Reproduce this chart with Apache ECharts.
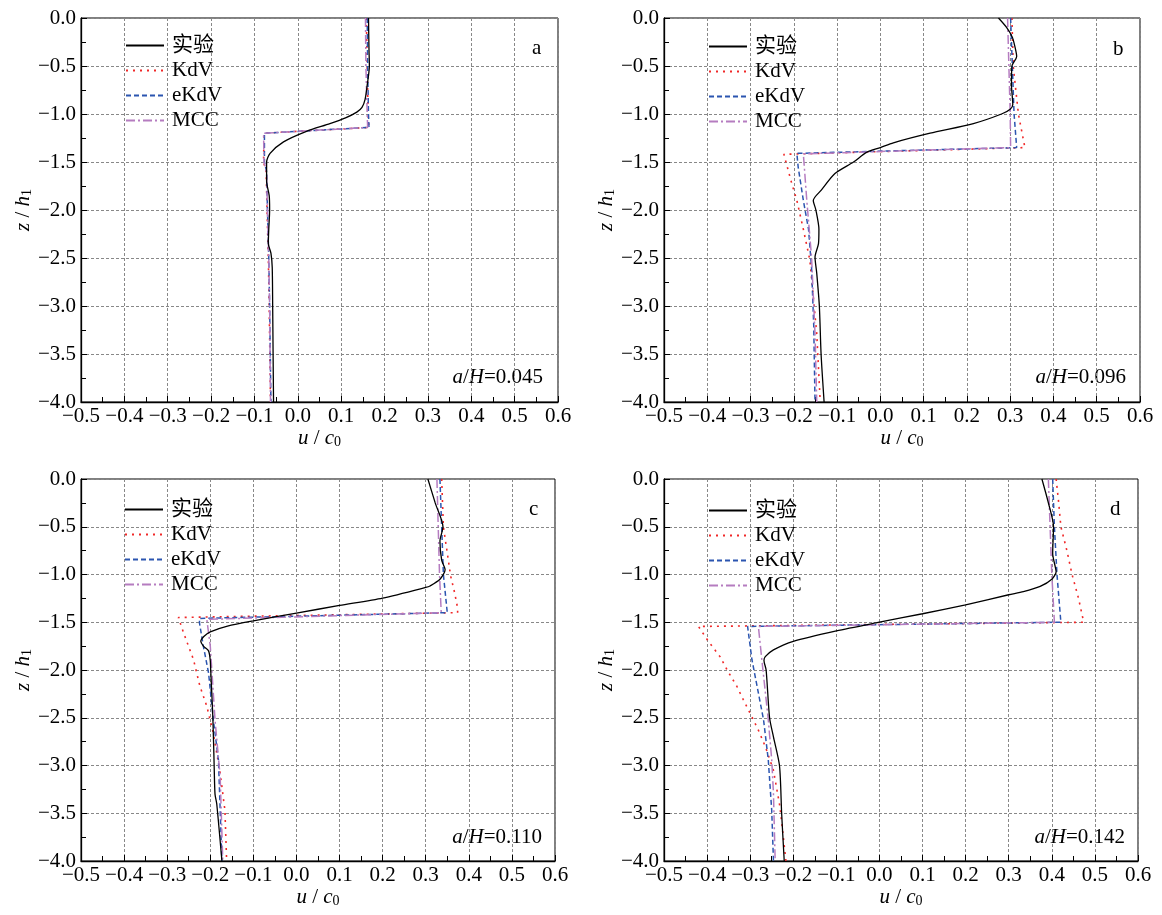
<!DOCTYPE html>
<html><head><meta charset="utf-8">
<script src="https://cdn.jsdelivr.net/npm/echarts@6/dist/echarts.min.js"></script>
<style>html,body{margin:0;padding:0;background:#fff}#c{width:1162px;height:915px}</style>
</head><body><div id="c"></div>
<script>
// ---- data: [u/c0, z/h1] ----
const seriesNames = ['实验', 'KdV', 'eKdV', 'MCC'];
const panelLetters = ['a', 'b', 'c', 'd'];
const ratioLabels = ['0.045', '0.096', '0.110', '0.142'];
const xMin = -0.5, xMax = 0.6, xStep = 0.1;
const yMin = -4, yMax = 0, yStep = 0.5;

const expA = [[0.163,0],[0.164,-0.3],[0.165,-0.5],[0.160,-0.7],[0.155,-0.85],[0.148,-0.93],[0.136,-0.98],[0.11,-1.04],[0.074,-1.10],[0.02,-1.18],[-0.033,-1.29],[-0.064,-1.41],[-0.072,-1.5],[-0.072,-1.7],[-0.066,-1.85],[-0.065,-2.0],[-0.067,-2.2],[-0.068,-2.35],[-0.062,-2.45],[-0.059,-2.6],[-0.058,-3.0],[-0.057,-3.5],[-0.056,-4.0]];
const kdvA = [[0.158,0],[0.160,-0.5],[0.162,-1.0],[0.164,-1.14],[-0.078,-1.2],[-0.079,-1.5],[-0.073,-1.6],[-0.071,-2.0],[-0.068,-2.5],[-0.066,-3.0],[-0.063,-4.0]];
const ekdvA = [[0.160,0],[0.161,-0.5],[0.163,-1.0],[0.164,-1.14],[-0.077,-1.2],[-0.077,-1.5],[-0.072,-1.6],[-0.070,-2.0],[-0.067,-2.5],[-0.065,-3.0],[-0.062,-4.0]];
const mccA = [[0.156,0],[0.157,-0.5],[0.160,-1.0],[0.161,-1.14],[-0.079,-1.2],[-0.078,-1.5],[-0.072,-1.6],[-0.070,-2.0],[-0.067,-2.5],[-0.065,-3.0],[-0.063,-4.0]];

const expB = [[0.273,0],[0.292,-0.1],[0.305,-0.2],[0.311,-0.3],[0.315,-0.4],[0.304,-0.5],[0.303,-0.7],[0.306,-0.9],[0.300,-0.95],[0.28,-1.0],[0.215,-1.1],[0.115,-1.2],[0.03,-1.3],[0.0,-1.35],[-0.032,-1.4],[-0.062,-1.5],[-0.105,-1.62],[-0.136,-1.79],[-0.155,-1.9],[-0.149,-2.0],[-0.142,-2.2],[-0.143,-2.35],[-0.151,-2.49],[-0.147,-2.66],[-0.141,-3.0],[-0.137,-3.5],[-0.130,-4.0]];
const kdvB = [[0.304,0],[0.307,-0.5],[0.319,-1.0],[0.334,-1.35],[-0.223,-1.42],[-0.205,-1.72],[-0.193,-1.9],[-0.178,-2.2],[-0.163,-2.52],[-0.147,-3.29],[-0.139,-4.0]];
const ekdvB = [[0.301,0],[0.305,-0.5],[0.309,-1.0],[0.315,-1.35],[-0.193,-1.41],[-0.19,-1.55],[-0.178,-1.9],[-0.166,-2.2],[-0.159,-2.6],[-0.154,-3.2],[-0.151,-4.0]];
const mccB = [[0.294,0],[0.297,-0.5],[0.300,-1.0],[0.301,-1.35],[-0.178,-1.415],[-0.170,-1.9],[-0.159,-2.49],[-0.151,-3.29],[-0.147,-4.0]];

const expC = [[0.305,0],[0.322,-0.25],[0.340,-0.5],[0.333,-0.65],[0.337,-0.85],[0.345,-0.95],[0.333,-1.05],[0.31,-1.12],[0.3,-1.136],[0.2,-1.247],[0.1,-1.324],[0.0,-1.404],[-0.1,-1.485],[-0.16,-1.54],[-0.2,-1.60],[-0.215,-1.65],[-0.222,-1.70],[-0.216,-1.75],[-0.204,-1.8],[-0.200,-1.9],[-0.199,-2.0],[-0.194,-2.5],[-0.191,-3.0],[-0.189,-3.3],[-0.185,-3.4],[-0.173,-4.0]];
const kdvC = [[0.337,0],[0.341,-0.5],[0.358,-1.02],[0.367,-1.19],[0.374,-1.35],[0.374,-1.40],[-0.274,-1.45],[-0.262,-1.61],[-0.239,-1.89],[-0.224,-2.17],[-0.208,-2.38],[-0.193,-2.66],[-0.177,-3.08],[-0.166,-3.47],[-0.162,-4.0]];
const ekdvC = [[0.333,0],[0.337,-0.5],[0.341,-1.0],[0.350,-1.40],[-0.225,-1.46],[-0.225,-1.51],[-0.216,-1.75],[-0.204,-2.03],[-0.193,-2.52],[-0.181,-2.94],[-0.177,-3.47],[-0.173,-4.0]];
const mccC = [[0.326,0],[0.329,-0.5],[0.332,-1.0],[0.336,-1.40],[-0.208,-1.47],[-0.200,-1.75],[-0.189,-2.52],[-0.177,-3.12],[-0.171,-4.0]];

const expD = [[0.377,0],[0.392,-0.25],[0.404,-0.5],[0.402,-0.78],[0.408,-0.92],[0.41,-0.97],[0.40,-1.05],[0.373,-1.125],[0.334,-1.18],[0.3,-1.212],[0.2,-1.317],[0.1,-1.411],[0.0,-1.499],[-0.1,-1.59],[-0.2,-1.70],[-0.246,-1.79],[-0.265,-1.86],[-0.268,-1.90],[-0.263,-2.0],[-0.255,-2.5],[-0.246,-2.7],[-0.232,-3.0],[-0.227,-3.5],[-0.221,-4.0]];
const kdvD = [[0.41,0],[0.416,-0.25],[0.421,-0.5],[0.435,-0.75],[0.447,-1.0],[0.462,-1.25],[0.474,-1.5],[-0.42,-1.544],[-0.397,-1.70],[-0.37,-1.86],[-0.351,-2.02],[-0.331,-2.17],[-0.316,-2.31],[-0.296,-2.49],[-0.281,-2.63],[-0.265,-2.8],[-0.246,-3.05],[-0.231,-3.43],[-0.217,-4.0]];
const ekdvD = [[0.402,0],[0.406,-0.5],[0.412,-1.0],[0.421,-1.5],[-0.306,-1.544],[-0.296,-1.89],[-0.281,-2.24],[-0.269,-2.52],[-0.258,-2.94],[-0.250,-3.47],[-0.246,-4.0]];
const mccD = [[0.392,0],[0.396,-0.5],[0.400,-1.0],[0.406,-1.5],[-0.281,-1.544],[-0.273,-1.89],[-0.258,-2.52],[-0.250,-2.94],[-0.246,-3.29],[-0.242,-4.0]];

const panelData = [
  [expA, kdvA, ekdvA, mccA],
  [expB, kdvB, ekdvB, mccB],
  [expC, kdvC, ekdvC, mccC],
  [expD, kdvD, ekdvD, mccD]
];

// ---- layout / style ----
const FONT = '"Liberation Serif", "Times New Roman", "Noto Sans CJK SC", serif';
const grids = [
  {left: 81, top: 18, width: 477, height: 384},
  {left: 664, top: 18, width: 476, height: 384},
  {left: 81, top: 479, width: 474, height: 382},
  {left: 664, top: 479, width: 474, height: 382}
];
const legendPos = [[125, 35], [708, 36], [124, 499], [708, 500]];
const letterPos = [[538, 50], [1119, 51], [535, 511], [1116, 511]];
const ratioPos = [[543, 377], [1126, 377], [542, 837], [1125, 837]];
const lineStyles = [
  {color: '#000000', width: 1.3, type: 'solid'},
  {color: '#f02828', width: 1.6, type: [2, 5]},
  {color: '#2b55b0', width: 1.5, type: [5, 3]},
  {color: '#b57cc0', width: 1.5, type: [9, 3, 2, 3]}
];

function fmt(v) {
  if (Math.abs(v) < 1e-9) return '0.0';
  const s = v.toFixed(1);
  return s.replace('-', '\u2212');
}
const richName = {
  i: {fontStyle: 'italic', fontSize: 21, fontFamily: FONT, lineHeight: 21, color: '#000'},
  n: {fontSize: 21, fontFamily: FONT, lineHeight: 21, color: '#000'},
  s: {fontSize: 14, fontFamily: FONT, lineHeight: 12, verticalAlign: 'bottom', color: '#000'}
};

const option = {
  animation: false,
  backgroundColor: '#fff',
  grid: grids.map(g => Object.assign({show: true, borderColor: '#000', borderWidth: 1, containLabel: false, outerBoundsMode: 'none'}, g)),
  xAxis: grids.map((g, i) => ({
    type: 'value', gridIndex: i, min: xMin, max: xMax, interval: xStep, position: 'bottom',
    name: '{i|u}{n| / }{i|c}{s|0}', nameLocation: 'middle', nameGap: 25,
    nameTextStyle: {rich: richName, fontSize: 21, fontFamily: FONT, color: '#000'},
    axisLine: {show: true, onZero: false, lineStyle: {color: '#000', width: 1.3}},
    axisTick: {show: true, inside: true, length: 6, lineStyle: {color: '#000'}},
    minorTick: {show: true, splitNumber: 2, length: 5, lineStyle: {color: '#000'}},
    axisLabel: {formatter: fmt, fontSize: 21, fontFamily: FONT, color: '#000', margin: 4},
    splitLine: {show: true, lineStyle: {color: '#888888', width: 1, type: [3, 2]}}
  })),
  yAxis: grids.map((g, i) => ({
    type: 'value', gridIndex: i, min: yMin, max: yMax, interval: yStep, position: 'left',
    name: '{i|z}{n| / }{i|h}{s|1}', nameLocation: 'middle', nameGap: 47, nameRotate: 90,
    nameTextStyle: {rich: richName, fontSize: 21, fontFamily: FONT, color: '#000'},
    axisLine: {show: true, onZero: false, lineStyle: {color: '#000', width: 1.3}},
    axisTick: {show: true, inside: true, length: 6, lineStyle: {color: '#000'}},
    minorTick: {show: true, splitNumber: 2, length: 5, lineStyle: {color: '#000'}},
    axisLabel: {formatter: fmt, fontSize: 21, fontFamily: FONT, color: '#000', margin: 5},
    splitLine: {show: true, lineStyle: {color: '#888888', width: 1, type: [3, 2]}}
  })),
  legend: legendPos.map(p => ({
    orient: 'vertical', left: p[0], top: p[1], padding: 0, itemWidth: 38, itemHeight: 14, itemGap: 4,
    data: seriesNames, selectedMode: false,
    itemStyle: {opacity: 0},
    textStyle: {fontSize: 21, fontFamily: FONT, color: '#000', lineHeight: 20, padding: [0, 0, 0, 3]}
  })),
  graphic: [],
  series: []
};

panelData.forEach((arrs, p) => {
  // models first, experiment on top
  [1, 2, 3, 0].forEach(k => {
    option.series.push({
      type: 'line', name: seriesNames[k], xAxisIndex: p, yAxisIndex: p,
      data: arrs[k], symbol: 'none', showSymbol: false, smooth: k === 0 ? 0.25 : false,
      lineStyle: lineStyles[k], itemStyle: {color: lineStyles[k].color},
      z: k === 0 ? 4 : 3
    });
  });
  option.graphic.push({
    type: 'text', left: letterPos[p][0] - 6, top: letterPos[p][1] - 12,
    style: {text: panelLetters[p], fontSize: 21, fontFamily: FONT, fill: '#000'}
  });
  option.graphic.push({
    type: 'text', x: ratioPos[p][0], y: ratioPos[p][1],
    style: {
      text: '{i|a}/{i|H}=' + ratioLabels[p], align: 'right', verticalAlign: 'middle',
      fontSize: 21, fontFamily: FONT, fill: '#000',
      rich: {i: {fontStyle: 'italic', fontSize: 21, fontFamily: FONT, fill: '#000'}}
    }
  });
});

const chart = echarts.init(document.getElementById('c'), null, {renderer: 'canvas'});
chart.setOption(option);
</script>
</body></html>
